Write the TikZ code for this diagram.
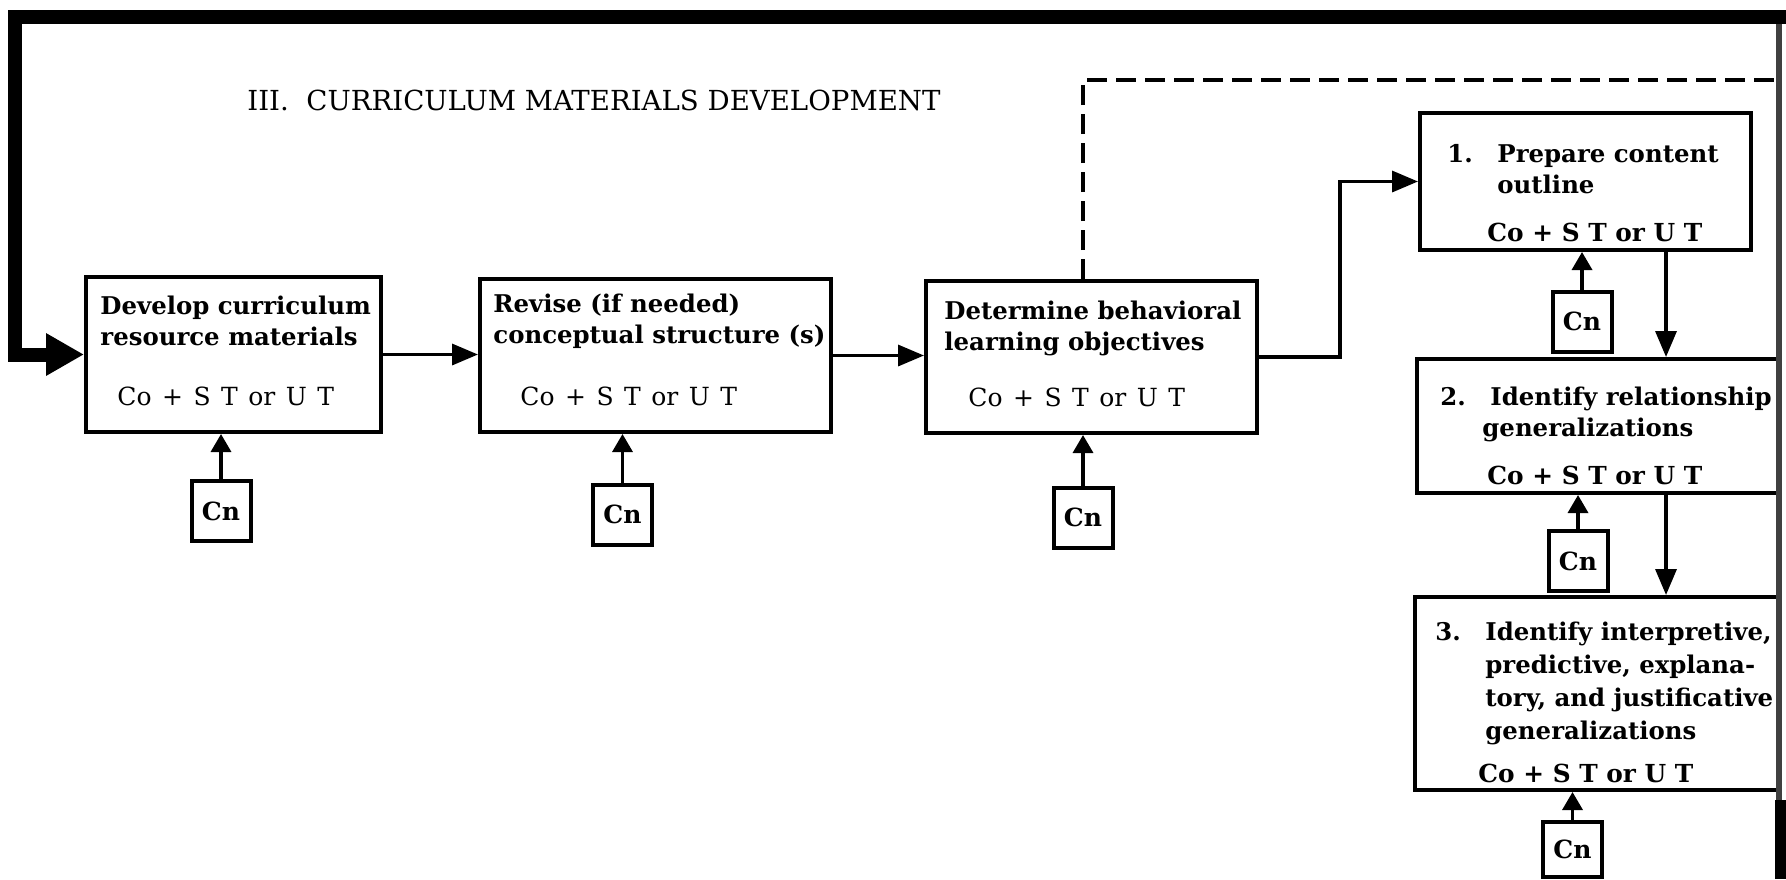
\documentclass[tikz,border=0pt]{standalone}
\usepackage{fontspec}
\setmainfont{DejaVu Serif}
\usetikzlibrary{arrows.meta, positioning, calc}
\tikzset{
  box/.style={
    rectangle, draw=black, line width=2pt, inner sep=0pt
  },
  cnbox/.style={
    rectangle, draw=black, line width=2pt, inner sep=0pt,
    minimum width=29.5pt, minimum height=30pt,
    font=\bfseries\fontsize{12.5}{14}\selectfont
  },
  txt/.style={
    inner sep=0pt, align=left, anchor=north west,
    font=\bfseries\fontsize{12.2}{15.5}\selectfont
  },
  form/.style={
    inner sep=0pt, anchor=west,
    font={\fontsize{12.5}{14}\selectfont\spaceskip=0.42em\relax}
  },
  bform/.style={
    inner sep=0pt, anchor=west,
    font=\bfseries\fontsize{12.4}{14}\selectfont
  },
  arrow/.style={-{Triangle[length=13pt,width=10.5pt]}, line width=1.7pt},
  cnarrow/.style={-{Triangle[length=9pt,width=10pt]}, line width=1.7pt},
  feedback/.style={-{Triangle[length=19pt,width=20pt]}, line width=7pt},
  dashline/.style={line width=2pt, dash pattern=on 10pt off 4.5pt},
  edge/.style={line width=3pt, draw=black!75}
}
\newcommand{\num}[1]{\makebox[25pt][l]{#1}}

\begin{document}
\begin{tikzpicture}[x=0.5pt, y=-0.5pt]
  \useasboundingbox (0,0) rectangle (1786,879);

  \node[font=\fontsize{13.8}{15}\selectfont, anchor=west, inner sep=0pt]
    (ttl) at (247,100) {III.\ \ CURRICULUM MATERIALS DEVELOPMENT};

  % left row
  \node[box, minimum width=147.5pt, minimum height=77.5pt] (dev) at (233.5,354.5) {};
  \node[box, minimum width=175.5pt, minimum height=76.5pt] (rev) at (655.5,355.5) {};
  \node[box, minimum width=165.5pt, minimum height=76pt] (beh) at (1091.5,357) {};
  \node[txt] (devt) at (100,296) {Develop curriculum\\resource materials};
  \node[txt] (revt) at (493,294) {Revise (if needed)\\conceptual structure (s)};
  \node[txt] (beht) at (944,301) {Determine behavioral\\learning objectives};
  \node[form] (devf) at (117,396) {Co + S T or U T};
  \node[form] (revf) at (520,396) {Co + S T or U T};
  \node[form] (behf) at (968,397) {Co + S T or U T};

  % right column
  \node[box, minimum width=165.5pt, minimum height=68.5pt] (p1) at (1585.5,181.5) {};
  \node[box, minimum width=181pt, minimum height=67pt] (p2) at (1598,426) {};
  \node[box, minimum width=182pt, minimum height=96.5pt] (p3) at (1597,693.5) {};
  \node[txt] (p1t) at (1447,144) {\num{1.}Prepare content\\\hspace*{25pt}outline};
  \node[txt] (p2t) at (1440,387) {\num{2.}Identify relationship\\\hspace*{21pt}generalizations};
  \node[txt, font=\bfseries\fontsize{12.2}{16.5}\selectfont] (p3t) at (1435,622)
    {\num{3.}Identify interpretive,\\\hspace*{25pt}predictive, explana-\\
     \hspace*{25pt}tory, and justificative\\\hspace*{25pt}generalizations};
  \node[bform] (p1f) at (1487,232) {Co + S T or U T};
  \node[bform] (p2f) at (1487,475) {Co + S T or U T};
  \node[bform] (p3f) at (1478,773) {Co + S T or U T};

  % constraint boxes
  \node[cnbox] (cnDev) at (221,511) {Cn};
  \node[cnbox] (cnRev) at (622.5,514.5) {Cn};
  \node[cnbox] (cnBeh) at (1083,517.5) {Cn};
  \node[cnbox] (cn1) at (1582,321.5) {Cn};
  \node[cnbox] (cn2) at (1578,561) {Cn};
  \node[cnbox, minimum height=27.5pt] (cn3) at (1572.5,849.5) {Cn};

  \coordinate (loopR) at (1786,17);
  \coordinate (loopL) at (15,17);
  \coordinate (dashTop) at (1083,80);
  \coordinate (dashR) at (1779,80);
  \coordinate (dn) at (1666,0);
  \coordinate (edgeT) at (1779,17);
  \coordinate (edgeB) at (1779,879);

  \draw[edge] (edgeT) -- (edgeB);
  \fill (1775,800) rectangle (1786,879);
  \draw[feedback] (loopR) -- (loopL) |- (dev.west);
  \draw[dashline] (dashTop |- beh.north) -- (dashTop) -- (dashR);

  \draw[arrow] (dev.east) -- (dev.east -| rev.west);
  \draw[arrow] (rev.east) -- (rev.east -| beh.west);
  \draw[arrow] (beh.east) -- ++(81,0) |- (p1.west);
  \draw[arrow] (dn |- p1.south) -- (dn |- p2.north);
  \draw[arrow] (dn |- p2.south) -- (dn |- p3.north);
  \foreach \c/\b in {cnDev/dev, cnRev/rev, cnBeh/beh, cn1/p1, cn2/p2, cn3/p3}{%
    \draw[cnarrow] (\c.north) -- (\c.north |- \b.south);}
\end{tikzpicture}
\end{document}
